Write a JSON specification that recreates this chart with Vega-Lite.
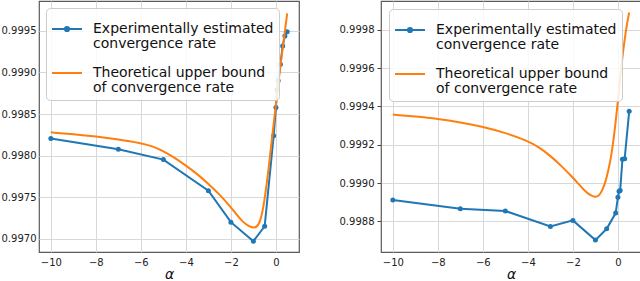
{
  "$schema": "https://vega.github.io/schema/vega-lite/v6.json",
  "padding": {"left": 0, "top": 0, "right": 0, "bottom": 0},
  "background": "white",
  "spacing": 38,
  "config": {
    "view": {"stroke": "#5a5a5a", "strokeWidth": 1.2},
    "axis": {"domain": false, "grid": true, "gridColor": "#d8d8d8", "gridWidth": 1, "labelFont": "DejaVu Sans", "labelFontSize": 10, "labelColor": "#222222", "tickColor": "#444444", "titleFont": "DejaVu Sans", "titleFontSize": 14, "titleFontStyle": "italic", "titleFontWeight": "normal", "titleColor": "#111111"},
    "legend": {"labelFont": "DejaVu Sans", "labelFontSize": 14, "labelColor": "#111111", "labelLimit": 0}
  },
  "datasets": {
    "left": [
      {"a": -10, "v": 0.998205, "s": "e"}, {"a": -7, "v": 0.998075, "s": "e"}, {"a": -5, "v": 0.997952, "s": "e"}, {"a": -3, "v": 0.997578, "s": "e"}, {"a": -2, "v": 0.997199, "s": "e"}, {"a": -1, "v": 0.99697, "s": "e"}, {"a": -0.5, "v": 0.99715, "s": "e"}, {"a": -0.1, "v": 0.99824, "s": "e"}, {"a": 0, "v": 0.99858, "s": "e"}, {"a": 0.05, "v": 0.99879, "s": "e"}, {"a": 0.1, "v": 0.9989, "s": "e"}, {"a": 0.2, "v": 0.9991, "s": "e"}, {"a": 0.3, "v": 0.99932, "s": "e"}, {"a": 0.4, "v": 0.99944, "s": "e"}, {"a": 0.5, "v": 0.99949, "s": "e"},
      {"a": -10, "v": 0.99828, "s": "t"}, {"a": -9, "v": 0.998257, "s": "t"}, {"a": -8, "v": 0.99823, "s": "t"}, {"a": -7, "v": 0.998195, "s": "t"}, {"a": -6, "v": 0.99815, "s": "t"}, {"a": -5.5, "v": 0.998115, "s": "t"}, {"a": -5, "v": 0.998055, "s": "t"}, {"a": -4.5, "v": 0.997975, "s": "t"}, {"a": -4, "v": 0.99788, "s": "t"}, {"a": -3.5, "v": 0.99778, "s": "t"}, {"a": -3, "v": 0.99766, "s": "t"}, {"a": -2.5, "v": 0.99753, "s": "t"}, {"a": -2, "v": 0.99738, "s": "t"}, {"a": -1.75, "v": 0.99729, "s": "t"}, {"a": -1.5, "v": 0.99721, "s": "t"}, {"a": -1.25, "v": 0.997155, "s": "t"}, {"a": -1, "v": 0.99713, "s": "t"}, {"a": -0.85, "v": 0.99714, "s": "t"}, {"a": -0.7, "v": 0.9972, "s": "t"}, {"a": -0.55, "v": 0.99738, "s": "t"}, {"a": -0.4, "v": 0.99768, "s": "t"}, {"a": -0.3, "v": 0.9979, "s": "t"}, {"a": -0.2, "v": 0.99815, "s": "t"}, {"a": -0.1, "v": 0.99838, "s": "t"}, {"a": 0, "v": 0.99862, "s": "t"}, {"a": 0.1, "v": 0.99886, "s": "t"}, {"a": 0.2, "v": 0.99908, "s": "t"}, {"a": 0.3, "v": 0.99929, "s": "t"}, {"a": 0.4, "v": 0.9995, "s": "t"}, {"a": 0.5, "v": 0.99971, "s": "t"}
    ],
    "right": [
      {"a": -10, "v": 0.998912, "s": "e"}, {"a": -7, "v": 0.998866, "s": "e"}, {"a": -5, "v": 0.998854, "s": "e"}, {"a": -3, "v": 0.998773, "s": "e"}, {"a": -2, "v": 0.998805, "s": "e"}, {"a": -1, "v": 0.998702, "s": "e"}, {"a": -0.5, "v": 0.998761, "s": "e"}, {"a": -0.1, "v": 0.998843, "s": "e"}, {"a": 0, "v": 0.998926, "s": "e"}, {"a": 0.05, "v": 0.998957, "s": "e"}, {"a": 0.1, "v": 0.998961, "s": "e"}, {"a": 0.2, "v": 0.999124, "s": "e"}, {"a": 0.3, "v": 0.999127, "s": "e"}, {"a": 0.5, "v": 0.999374, "s": "e"},
      {"a": -10, "v": 0.999357, "s": "t"}, {"a": -9, "v": 0.999347, "s": "t"}, {"a": -8, "v": 0.999335, "s": "t"}, {"a": -7, "v": 0.999317, "s": "t"}, {"a": -6, "v": 0.999294, "s": "t"}, {"a": -5, "v": 0.999262, "s": "t"}, {"a": -4, "v": 0.99922, "s": "t"}, {"a": -3.5, "v": 0.999186, "s": "t"}, {"a": -3, "v": 0.999142, "s": "t"}, {"a": -2.5, "v": 0.999088, "s": "t"}, {"a": -2, "v": 0.999028, "s": "t"}, {"a": -1.75, "v": 0.998995, "s": "t"}, {"a": -1.5, "v": 0.998963, "s": "t"}, {"a": -1.25, "v": 0.998937, "s": "t"}, {"a": -1, "v": 0.998925, "s": "t"}, {"a": -0.85, "v": 0.998932, "s": "t"}, {"a": -0.7, "v": 0.99896, "s": "t"}, {"a": -0.55, "v": 0.999005, "s": "t"}, {"a": -0.4, "v": 0.99908, "s": "t"}, {"a": -0.3, "v": 0.99914, "s": "t"}, {"a": -0.2, "v": 0.99922, "s": "t"}, {"a": -0.1, "v": 0.99932, "s": "t"}, {"a": 0, "v": 0.99943, "s": "t"}, {"a": 0.1, "v": 0.99955, "s": "t"}, {"a": 0.2, "v": 0.99966, "s": "t"}, {"a": 0.3, "v": 0.99975, "s": "t"}, {"a": 0.4, "v": 0.99983, "s": "t"}, {"a": 0.5, "v": 0.99989, "s": "t"}
    ]
  },
  "resolve": {"scale": {"y": "independent"}, "legend": {"color": "independent"}},
  "hconcat": [
    {
      "width": 260,
      "height": 251,
      "data": {"name": "left"},
      "encoding": {
        "x": {"field": "a", "type": "quantitative", "title": "α", "scale": {"domain": [-10.525, 1.025], "nice": false, "zero": false}, "axis": {"values": [-10, -8, -6, -4, -2, 0], "tickSize": 0, "labelPadding": 5, "titlePadding": 0}},
        "y": {"field": "v", "type": "quantitative", "title": null, "scale": {"domain": [0.99684, 0.99986], "nice": false, "zero": false}, "axis": {"values": [0.997, 0.9975, 0.998, 0.9985, 0.999, 0.9995], "format": ".4f", "tickSize": 0, "labelPadding": 3}},
        "color": {"field": "s", "type": "nominal", "scale": {"domain": ["e", "t"], "range": ["#1f77b4", "#ff7f0e"]},
          "legend": {"title": null, "orient": "top-left", "offset": 7, "padding": 5, "rowPadding": 6, "symbolSize": 900, "symbolStrokeWidth": 2, "labelOffset": 10, "fillColor": "rgba(255,255,255,0.85)", "strokeColor": "#cccccc", "cornerRadius": 4,
            "labelExpr": "datum.value == 'e' ? ['Experimentally estimated', '\u2002convergence rate'] : ['Theoretical upper bound', '\u2002of convergence rate']",
            "encode": {
              "labels": {"update": {"lineHeight": {"value": 15}}},
              "symbols": {"update": {
                "shape": {"signal": "datum.value == 'e' ? 'M-1,0L1,0M0.14,0A0.14,0.14,0,1,1,-0.14,0A0.14,0.14,0,1,1,0.14,0Z' : 'M-1,0L1,0'"},
                "fill": {"signal": "datum.value == 'e' ? '#1f77b4' : 'transparent'"},
                "stroke": {"signal": "datum.value == 'e' ? '#1f77b4' : '#ff7f0e'"},
                "strokeWidth": {"value": 2},
                "opacity": {"value": 1},
                "fillOpacity": {"value": 1}
              }}
            }
          }
        }
      },
      "layer": [
        {"transform": [{"filter": "datum.s == 'e'"}], "mark": {"type": "line", "strokeWidth": 2, "point": {"filled": true, "size": 25}}},
        {"transform": [{"filter": "datum.s == 't'"}], "mark": {"type": "line", "strokeWidth": 2, "interpolate": "basis"}}
      ]
    },
    {
      "width": 260,
      "height": 251,
      "data": {"name": "right"},
      "encoding": {
        "x": {"field": "a", "type": "quantitative", "title": "α", "scale": {"domain": [-10.525, 1.025], "nice": false, "zero": false}, "axis": {"values": [-10, -8, -6, -4, -2, 0], "tickSize": 0, "labelPadding": 5, "titlePadding": 0}},
        "y": {"field": "v", "type": "quantitative", "title": null, "scale": {"domain": [0.99864, 0.99995], "nice": false, "zero": false}, "axis": {"values": [0.9988, 0.999, 0.9992, 0.9994, 0.9996, 0.9998], "format": ".4f", "tickSize": 4, "labelPadding": 3}},
        "color": {"field": "s", "type": "nominal", "scale": {"domain": ["e", "t"], "range": ["#1f77b4", "#ff7f0e"]},
          "legend": {"title": null, "orient": "top-left", "offset": 8, "padding": 5, "rowPadding": 6, "symbolSize": 900, "symbolStrokeWidth": 2, "labelOffset": 10, "fillColor": "rgba(255,255,255,0.85)", "strokeColor": "#cccccc", "cornerRadius": 4,
            "labelExpr": "datum.value == 'e' ? ['Experimentally estimated', '\u2002convergence rate'] : ['Theoretical upper bound', '\u2002of convergence rate']",
            "encode": {
              "labels": {"update": {"lineHeight": {"value": 15}}},
              "symbols": {"update": {
                "shape": {"signal": "datum.value == 'e' ? 'M-1,0L1,0M0.14,0A0.14,0.14,0,1,1,-0.14,0A0.14,0.14,0,1,1,0.14,0Z' : 'M-1,0L1,0'"},
                "fill": {"signal": "datum.value == 'e' ? '#1f77b4' : 'transparent'"},
                "stroke": {"signal": "datum.value == 'e' ? '#1f77b4' : '#ff7f0e'"},
                "strokeWidth": {"value": 2},
                "opacity": {"value": 1},
                "fillOpacity": {"value": 1}
              }}
            }
          }
        }
      },
      "layer": [
        {"transform": [{"filter": "datum.s == 'e'"}], "mark": {"type": "line", "strokeWidth": 2, "point": {"filled": true, "size": 25}}},
        {"transform": [{"filter": "datum.s == 't'"}], "mark": {"type": "line", "strokeWidth": 2, "interpolate": "basis"}}
      ]
    }
  ]
}
